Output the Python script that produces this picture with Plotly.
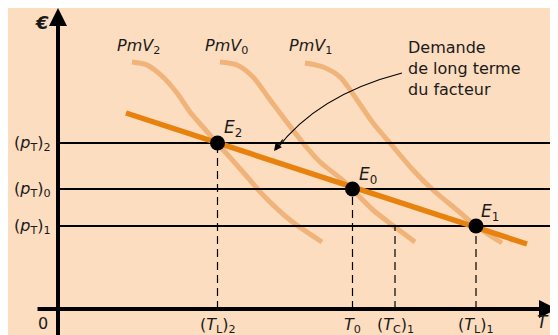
import plotly.graph_objects as go

# ---- data (economic units: 1 unit ~ 10 px) ----
T_labels = ["(<i>T</i><sub>L</sub>)<sub>2</sub>", "<i>T</i><sub>0</sub>", "(<i>T</i><sub>C</sub>)<sub>1</sub>", "(<i>T</i><sub>L</sub>)<sub>1</sub>"]
T_values = [15.95, 29.45, 33.7, 41.8]
T_tops = [16.6, 12.0, 8.3, 8.3]

p_labels = ["(<i>p</i><sub>T</sub>)<sub>2</sub>", "(<i>p</i><sub>T</sub>)<sub>0</sub>", "(<i>p</i><sub>T</sub>)<sub>1</sub>"]
p_values = [16.6, 12.0, 8.3]

E_labels = ["<i>E</i><sub>2</sub>", "<i>E</i><sub>0</sub>", "<i>E</i><sub>1</sub>"]
E_x = [15.95, 29.45, 41.8]
E_y = [16.6, 12.0, 8.3]

demand_x = [6.8, 46.9]
demand_y = [19.6, 6.5]

pmv2_x = [7.4, 8.9, 10.5, 11.9, 13.2, 14.5, 15.9, 18.5, 20.5, 23.2, 26.4]
pmv2_y = [24.7, 24.4, 23.2, 21.6, 19.7, 18.2, 16.6, 13.7, 11.4, 8.9, 6.7]
pmv0_x = [16.2, 17.9, 19.5, 21.0, 22.5, 24.5, 26.2, 28.2, 29.4, 31.5, 33.7, 35.7]
pmv0_y = [24.7, 24.4, 23.2, 21.2, 19.2, 16.6, 14.7, 13.1, 12.0, 9.9, 8.2, 6.7]
pmv1_x = [24.7, 26.5, 28.2, 29.9, 31.5, 33.2, 35.5, 37.5, 39.9, 41.8, 44.4]
pmv1_y = [24.6, 24.2, 23.2, 20.9, 18.6, 16.6, 13.9, 11.9, 9.9, 8.3, 6.6]
pmv_names = ["<i>PmV</i><sub>2</sub>", "<i>PmV</i><sub>0</sub>", "<i>PmV</i><sub>1</sub>"]

BG = "#FCDDBF"
ORANGE = "#E8820E"
LIGHT = "#F0B47A"
FONT = "DejaVu Sans"
TXT = "#1a1a1a"

fig = go.Figure()

# PmV curves
for xs, ys in [(pmv2_x, pmv2_y), (pmv0_x, pmv0_y), (pmv1_x, pmv1_y)]:
    fig.add_trace(go.Scatter(x=xs, y=ys, mode="lines", line=dict(color=LIGHT, width=5, shape="spline", smoothing=0.8),
                             hoverinfo="skip", showlegend=False))

# horizontal price lines
for p in p_values:
    fig.add_trace(go.Scatter(x=[0, 51], y=[p, p], mode="lines", line=dict(color="black", width=1.8),
                             hoverinfo="skip", showlegend=False))

# dashed verticals
for t, top in zip(T_values, T_tops):
    fig.add_trace(go.Scatter(x=[t, t], y=[0, top], mode="lines", line=dict(color="black", width=1.2, dash="8px,5px"),
                             hoverinfo="skip", showlegend=False))

# long-term demand
fig.add_trace(go.Scatter(x=demand_x, y=demand_y, mode="lines", line=dict(color=ORANGE, width=5.5),
                         hoverinfo="skip", showlegend=False))

# equilibrium points
fig.add_trace(go.Scatter(x=E_x, y=E_y, mode="markers", marker=dict(color="black", size=15),
                         hoverinfo="skip", showlegend=False))

ann = []
# axes with arrows
ann.append(dict(x=49.9, y=0, ax=-2.2, ay=0, xref="x", yref="y", axref="x", ayref="y", text="",
                showarrow=True, arrowhead=2, arrowsize=0.9, arrowwidth=4, arrowcolor="black"))
ann.append(dict(x=0, y=30.1, ax=0, ay=-3.4, xref="x", yref="y", axref="x", ayref="y", text="",
                showarrow=True, arrowhead=2, arrowsize=0.9, arrowwidth=4, arrowcolor="black"))

# curved arrow head
ann.append(dict(x=21.6, y=15.8, ax=10, ay=-13, xref="x", yref="y", text="",
                showarrow=True, arrowhead=2, arrowsize=1.3, arrowwidth=1.2, arrowcolor="black", standoff=0))

# labels
ann.append(dict(x=-1.6, y=28.7, text="<b><i>€</i></b>", showarrow=False, font=dict(size=18, family=FONT, color=TXT)))
ann.append(dict(x=-1.5, y=-1.4, text="0", showarrow=False, font=dict(size=16, family=FONT, color=TXT)))
ann.append(dict(x=48.5, y=-1.3, text="<i>T</i>", xanchor="center", showarrow=False,
                font=dict(size=17, family=FONT, color=TXT)))

for name, x0 in zip(pmv_names, [5.7, 14.5, 22.9]):
    ann.append(dict(x=x0, y=26.3, text=name, xanchor="left", yanchor="middle", showarrow=False,
                    font=dict(size=16, family=FONT, color=TXT)))

ann.append(dict(x=34.8, y=27.3, text="Demande<br>de long terme<br>du facteur", xanchor="left", yanchor="top",
                align="left", showarrow=False, font=dict(size=16, family=FONT, color=TXT)))

for lab, p in zip(p_labels, p_values):
    ann.append(dict(x=-0.5, y=p, text=lab, xanchor="right", yanchor="middle", showarrow=False,
                    font=dict(size=16, family=FONT, color=TXT)))

for lab, t in zip(T_labels, T_values):
    ann.append(dict(x=t, y=-1.6, text=lab, xanchor="center", yanchor="middle", showarrow=False,
                    font=dict(size=16, family=FONT, color=TXT)))

for lab, x0, y0 in zip(E_labels, [16.4, 29.9, 42.1], [18.1, 13.4, 9.7]):
    ann.append(dict(x=x0, y=y0, text=lab, xanchor="left", yanchor="middle", showarrow=False,
                    font=dict(size=17, family=FONT, color=TXT)))

for a in ann:
    a.setdefault("xref", "x")
    a.setdefault("yref", "y")

shapes = [dict(type="path", xref="x", yref="y",
               path="M 34.4 23.6 Q 25.9 21.4 21.8 15.9",
               line=dict(color="black", width=1.2))]

# the page body adds an 8 px offset; ranges are set so data land at the reference's pixels
fig.update_layout(
    width=558, height=335,
    margin=dict(l=0, r=0, t=0, b=0),
    paper_bgcolor=BG, plot_bgcolor=BG,
    xaxis=dict(range=[-5.0, 50.8], visible=False, fixedrange=True),
    yaxis=dict(range=[-3.4, 30.1], visible=False, fixedrange=True),
    annotations=ann, shapes=shapes,
    showlegend=False,
)

fig.write_html("out.html")
